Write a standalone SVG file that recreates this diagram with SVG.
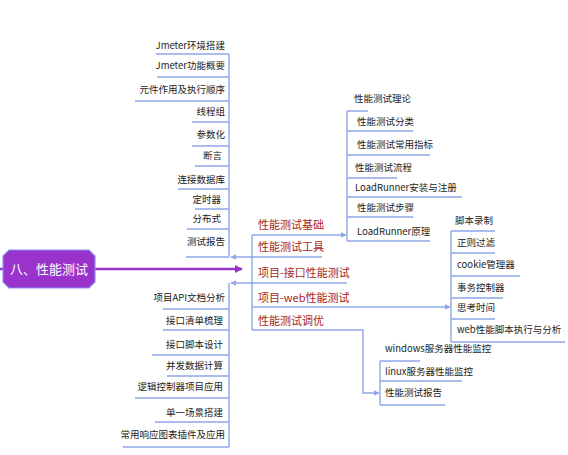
<svg xmlns="http://www.w3.org/2000/svg" width="568" height="455" viewBox="0 0 568 455">
<defs>
<style>
.ln{stroke:#8FA7E8;stroke-width:1.4;fill:none}
.lf{font-family:"Noto Sans CJK SC","Noto Sans",sans-serif;font-size:9.5px;fill:#222}
.le{text-anchor:end}
.rd{font-family:"Noto Sans CJK SC","Noto Sans",sans-serif;font-size:11px;fill:#A81E22}
.mn{font-family:"Noto Sans CJK SC","Noto Sans",sans-serif;font-size:13px;fill:#fff}
</style>
<marker id="ab" viewBox="0 0 10 10" refX="9" refY="5" markerWidth="6" markerHeight="6" orient="auto" markerUnits="userSpaceOnUse"><path d="M0,0 L10,5 L0,10 z" fill="#8FA7E8"/></marker>
<marker id="ap" viewBox="0 0 10 10" refX="9" refY="5" markerWidth="8" markerHeight="8" orient="auto" markerUnits="userSpaceOnUse"><path d="M0,0 L10,5 L0,10 z" fill="#9933CC"/></marker>
</defs>
<rect width="568" height="455" fill="#fff"/>
<g id="connectors">
<path d="M0 269 H3" stroke="#9933CC" stroke-width="2.5"/>
<path d="M95 269 H242" stroke="#9933CC" stroke-width="2.5" marker-end="url(#ap)"/>
<path class="ln" d="M229 54 V257"/>
<path class="ln" d="M322 257 H231" marker-end="url(#ab)"/>
<path class="ln" d="M156 54 H229 M157 77 H229 M135 101 H229 M192 122 H229 M192 146 H229 M195 166 H229 M178 189 H229 M195 209 H229 M187 229 H229 M186 257 H229"/>
<path class="ln" d="M229 283 V447"/>
<path class="ln" d="M347 283 H231" marker-end="url(#ab)"/>
<path class="ln" d="M163 309 H229 M163 330 H229 M152 355 H229 M167 376 H229 M135 398 H229 M155 422 H229 M123 447 H229"/>
<path class="ln" d="M252 235 V330"/>
<path class="ln" d="M252 235 H346" marker-end="url(#ab)"/>
<path class="ln" d="M252 307 H450" marker-end="url(#ab)"/>
<path class="ln" d="M252 330 H363 V393 H379" marker-end="url(#ab)"/>
<path class="ln" d="M347 111 V241 M347 111 H368 M347 131 H413 M347 155 H430 M347 178 H397 M347 197 H462 M347 217 H413 M347 241 H430"/>
<path class="ln" d="M451 231 V342 M451 231 H495 M451 253 H495 M451 276 H520 M451 298 H503 M451 319 H495 M451 342 H565"/>
<path class="ln" d="M380 361 V405 M380 361 H420 M380 381 H462 M380 405 H445"/>
</g>
<g id="root">
<path d="M9 250 H89 L95 256 V282 L89 288 H9 L3 282 V256 Z" fill="#9933CC" stroke="#8C8CF0" stroke-width="1.2"/>
<text class="mn" x="49" y="274" text-anchor="middle">八、性能测试</text>
</g>
<g id="main-topics">
<text class="rd" x="258" y="229">性能测试基础</text>
<text class="rd" x="258" y="251">性能测试工具</text>
<text class="rd" x="258" y="277">项目-接口性能测试</text>
<text class="rd" x="258" y="302">项目-web性能测试</text>
<text class="rd" x="258" y="325">性能测试调优</text>
</g>
<g id="jmeter">
<text class="lf le" x="225" y="49">Jmeter环境搭建</text>
<text class="lf le" x="225" y="69">Jmeter功能概要</text>
<text class="lf le" x="225" y="93">元件作用及执行顺序</text>
<text class="lf le" x="225" y="115">线程组</text>
<text class="lf le" x="225" y="138">参数化</text>
<text class="lf le" x="222" y="159">断言</text>
<text class="lf le" x="225" y="183">连接数据库</text>
<text class="lf le" x="221" y="203">定时器</text>
<text class="lf le" x="221" y="222">分布式</text>
<text class="lf le" x="225" y="245">测试报告</text>
</g>
<g id="interface">
<text class="lf le" x="225" y="301">项目API文档分析</text>
<text class="lf le" x="223" y="324">接口清单梳理</text>
<text class="lf le" x="223" y="348">接口脚本设计</text>
<text class="lf le" x="223" y="369">并发数据计算</text>
<text class="lf le" x="223" y="390">逻辑控制器项目应用</text>
<text class="lf le" x="223" y="416">单一场景搭建</text>
<text class="lf le" x="225" y="438">常用响应图表插件及应用</text>
</g>
<g id="loadrunner">
<text class="lf" x="354" y="102">性能测试理论</text>
<text class="lf" x="357" y="125">性能测试分类</text>
<text class="lf" x="357" y="148">性能测试常用指标</text>
<text class="lf" x="355" y="171">性能测试流程</text>
<text class="lf" x="355" y="191">LoadRunner安装与注册</text>
<text class="lf" x="357" y="211">性能测试步骤</text>
<text class="lf" x="357" y="235">LoadRunner原理</text>
</g>
<g id="web">
<text class="lf" x="455" y="224">脚本录制</text>
<text class="lf" x="457" y="246">正则过滤</text>
<text class="lf" x="457" y="268">cookie管理器</text>
<text class="lf" x="457" y="291">事务控制器</text>
<text class="lf" x="457" y="311">思考时间</text>
<text class="lf" x="457" y="333">web性能脚本执行与分析</text>
</g>
<g id="tuning">
<text class="lf" x="385" y="352">windows服务器性能监控</text>
<text class="lf" x="385" y="375">linux服务器性能监控</text>
<text class="lf" x="385" y="396">性能测试报告</text>
</g>
</svg>
